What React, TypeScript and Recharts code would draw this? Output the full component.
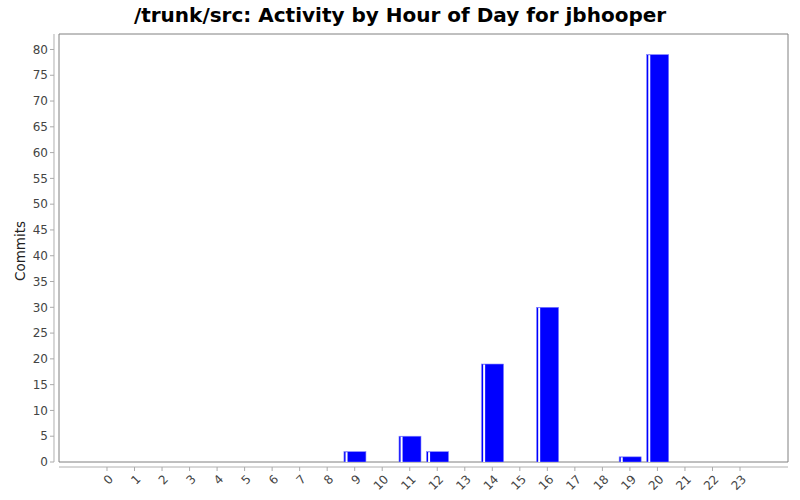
import React from "react";
import { BarChart, Bar, XAxis, YAxis, ReferenceLine, ReferenceArea } from "recharts";

const hours = [0, 1, 2, 3, 4, 5, 6, 7, 8, 9, 10, 11, 12, 13, 14, 15, 16, 17, 18, 19, 20, 21, 22, 23];
const commits = [0, 0, 0, 0, 0, 0, 0, 0, 0, 2, 0, 5, 2, 0, 19, 0, 30, 0, 0, 1, 79, 0, 0, 0];
const yTicks = [0, 5, 10, 15, 20, 25, 30, 35, 40, 45, 50, 55, 60, 65, 70, 75, 80];

const data = hours.map((h, i) => ({ hour: h, commits: commits[i] }));

const X_MIN = -1.744;
const X_MAX = 24.744;
const Y_MAX = 83;

const font = "'DejaVu Sans', sans-serif";

const XTick = (props: any) => {
  const { x, y, payload } = props;
  return (
    <g>
      <line x1={x} x2={x} y1={y + 5} y2={y + 9} stroke="#aaaaaa" />
      <text
        x={0}
        y={0}
        dy="0.35em"
        textAnchor="end"
        fontSize={12}
        fontFamily={font}
        fill="#444444"
        transform={`translate(${x + 4},${y + 15}) rotate(-45)`}
      >
        {payload.value}
      </text>
    </g>
  );
};

const YTick = (props: any) => {
  const { x, y, payload } = props;
  return (
    <g>
      <line x1={x - 9} x2={x - 5} y1={y} y2={y} stroke="#aaaaaa" />
      <text x={x - 11} y={y} dy="0.35em" textAnchor="end" fontSize={12} fontFamily={font} fill="#444444">
        {payload.value}
      </text>
    </g>
  );
};

// blue bar with a thin white highlight near the left edge
const BarShape = (props: any) => {
  const { x, y, width, height } = props;
  if (!height || height <= 0) return null;
  return (
    <g>
      <rect x={x} y={y} width={width} height={height} fill="#0000ff" stroke="#8080ff" strokeWidth={0.6} />
      <rect x={x + 1.6} y={y + 0.5} width={2} height={height - 0.5} fill="#ffffff" />
    </g>
  );
};

export default function App() {
  return (
    <div style={{ position: "absolute", left: 0, top: 0, width: 800, height: 500, background: "#fff" }}>
      <BarChart width={800} height={500} data={data} margin={{ top: 34, right: 12, bottom: 0, left: 0 }}>
        <text x={400} y={22} textAnchor="middle" fontSize={20} fontWeight="bold" fontFamily={font} fill="#000">
          /trunk/src: Activity by Hour of Day for jbhooper
        </text>
        <text
          x={0}
          y={0}
          textAnchor="middle"
          fontSize={13.5}
          fontFamily={font}
          fill="#222"
          transform="translate(25,251) rotate(-90)"
        >
          Commits
        </text>
        <XAxis
          dataKey="hour"
          type="number"
          domain={[X_MIN, X_MAX]}
          ticks={hours}
          interval={0}
          height={38}
          axisLine={false}
          tickLine={false}
          tickSize={0}
          tickMargin={0}
          tick={<XTick />}
          allowDataOverflow
        />
        <YAxis
          domain={[0, Y_MAX]}
          ticks={yTicks}
          width={59}
          axisLine={false}
          tickLine={false}
          tickSize={0}
          tickMargin={0}
          tick={<YTick />}
          allowDataOverflow
        />
        <ReferenceArea
          x1={X_MIN}
          x2={X_MAX}
          y1={0}
          y2={Y_MAX}
          fill="none"
          stroke="#808080"
          strokeWidth={1}
          ifOverflow="visible"
        />
        <ReferenceLine y={-0.97} stroke="#b0b0b0" ifOverflow="visible" />
        <ReferenceLine x={-1.926} stroke="#b0b0b0" ifOverflow="visible" />
        <Bar dataKey="commits" barSize={22} shape={<BarShape />} isAnimationActive={false} />
      </BarChart>
    </div>
  );
}
